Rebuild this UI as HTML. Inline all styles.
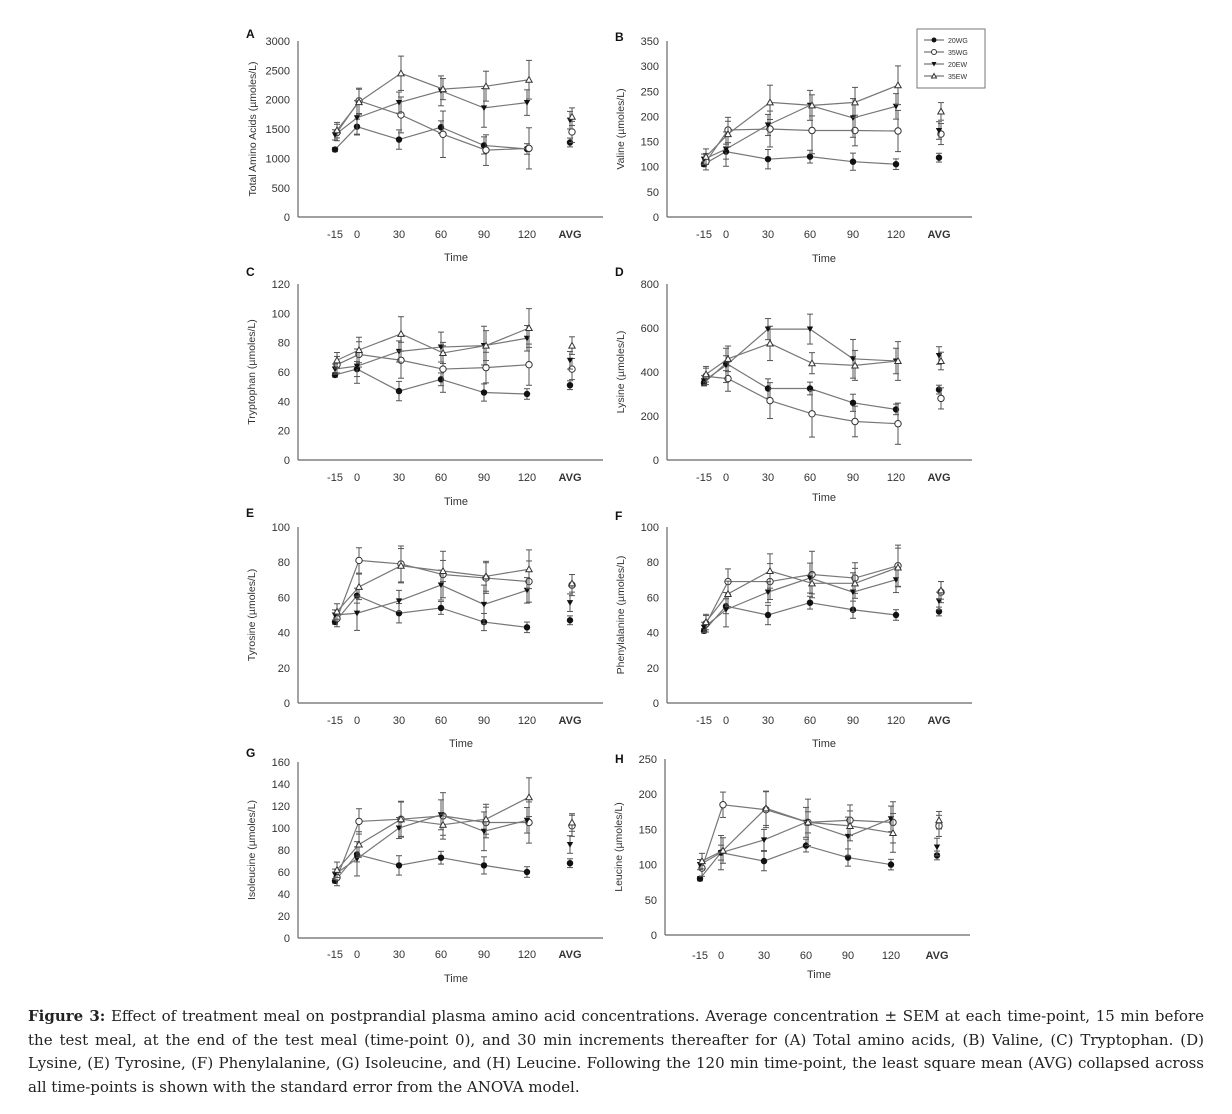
<!DOCTYPE html>
<html><head><meta charset="utf-8"><style>
body{margin:0;background:#fff;width:1232px;height:1114px;overflow:hidden;position:relative}
svg{position:absolute;left:0;top:0}
.t{font-family:"Liberation Sans",sans-serif;font-size:11px;fill:#333}
.yl{font-family:"Liberation Sans",sans-serif;font-size:10.5px;fill:#333}
.pl{font-family:"Liberation Sans",sans-serif;font-size:12px;font-weight:bold;fill:#111}
.cap{position:absolute;left:28px;top:1005px;width:1176px;font-family:"DejaVu Serif",serif;font-size:15px;line-height:23.5px;color:#222;text-align:justify;text-align-last:left}
</style></head><body>
<svg id="s" width="1232" height="1114" xmlns="http://www.w3.org/2000/svg">
<g id="texts">
<g transform="translate(298,217)">
<text class="pl" x="-52" y="-179">A</text>
<g text-anchor="end" class="t"><text x="-8" y="4">0</text><text x="-8" y="-25">500</text><text x="-8" y="-54.7">1000</text><text x="-8" y="-84">1500</text><text x="-8" y="-113.3">2000</text><text x="-8" y="-142.7">2500</text><text x="-8" y="-172">3000</text></g>
<text class="yl" transform="translate(-42,-88) rotate(-90)" text-anchor="middle">Total Amino Acids (µmoles/L)</text>
</g>
<g transform="translate(667,217)">
<text class="pl" x="-52" y="-176">B</text>
<g text-anchor="end" class="t"><text x="-8" y="4">0</text><text x="-8" y="-21.1">50</text><text x="-8" y="-46.3">100</text><text x="-8" y="-71.4">150</text><text x="-8" y="-96.6">200</text><text x="-8" y="-121.7">250</text><text x="-8" y="-146.9">300</text><text x="-8" y="-172">350</text></g>
<text class="yl" transform="translate(-43,-88) rotate(-90)" text-anchor="middle">Valine (µmoles/L)</text>
</g>
<g transform="translate(298,460)">
<text class="pl" x="-52" y="-184">C</text>
<g text-anchor="end" class="t"><text x="-8" y="4">0</text><text x="-8" y="-25.3">20</text><text x="-8" y="-54.7">40</text><text x="-8" y="-84">60</text><text x="-8" y="-113.3">80</text><text x="-8" y="-142.7">100</text><text x="-8" y="-172">120</text></g>
<text class="yl" transform="translate(-43,-88) rotate(-90)" text-anchor="middle">Tryptophan (µmoles/L)</text>
</g>
<g transform="translate(667,460)">
<text class="pl" x="-52" y="-184">D</text>
<g text-anchor="end" class="t"><text x="-8" y="4">0</text><text x="-8" y="-40">200</text><text x="-8" y="-84">400</text><text x="-8" y="-128">600</text><text x="-8" y="-172">800</text></g>
<text class="yl" transform="translate(-43,-88) rotate(-90)" text-anchor="middle">Lysine (µmoles/L)</text>
</g>
<g transform="translate(298,703)">
<text class="pl" x="-52" y="-186">E</text>
<g text-anchor="end" class="t"><text x="-8" y="4">0</text><text x="-8" y="-31.2">20</text><text x="-8" y="-66.4">40</text><text x="-8" y="-101.6">60</text><text x="-8" y="-136.8">80</text><text x="-8" y="-172">100</text></g>
<text class="yl" transform="translate(-43,-88) rotate(-90)" text-anchor="middle">Tyrosine (µmoles/L)</text>
</g>
<g transform="translate(667,703)">
<text class="pl" x="-52" y="-183">F</text>
<g text-anchor="end" class="t"><text x="-8" y="4">0</text><text x="-8" y="-31.2">20</text><text x="-8" y="-66.4">40</text><text x="-8" y="-101.6">60</text><text x="-8" y="-136.8">80</text><text x="-8" y="-172">100</text></g>
<text class="yl" transform="translate(-43,-88) rotate(-90)" text-anchor="middle">Phenylalanine (µmoles/L)</text>
</g>
<g transform="translate(298,938)">
<text class="pl" x="-52" y="-181">G</text>
<g text-anchor="end" class="t"><text x="-8" y="4">0</text><text x="-8" y="-18">20</text><text x="-8" y="-40">40</text><text x="-8" y="-62">60</text><text x="-8" y="-84">80</text><text x="-8" y="-106">100</text><text x="-8" y="-128">120</text><text x="-8" y="-150">140</text><text x="-8" y="-172">160</text></g>
<text class="yl" transform="translate(-43,-88) rotate(-90)" text-anchor="middle">Isoleucine (µmoles/L)</text>
</g>
<g transform="translate(665,935)">
<text class="pl" x="-50" y="-172">H</text>
<g text-anchor="end" class="t"><text x="-8" y="4">0</text><text x="-8" y="-31.2">50</text><text x="-8" y="-66.4">100</text><text x="-8" y="-101.6">150</text><text x="-8" y="-136.8">200</text><text x="-8" y="-172">250</text></g>
<text class="yl" transform="translate(-43,-88) rotate(-90)" text-anchor="middle">Leucine (µmoles/L)</text>
</g>
<g class="t" text-anchor="middle">
<g transform="translate(298,238)"><text x="37">-15</text><text x="59">0</text><text x="101">30</text><text x="143">60</text><text x="186">90</text><text x="229">120</text><text x="272" font-weight="bold">AVG</text><text x="158" y="23">Time</text></g>
<g transform="translate(667,238)"><text x="37">-15</text><text x="59">0</text><text x="101">30</text><text x="143">60</text><text x="186">90</text><text x="229">120</text><text x="272" font-weight="bold">AVG</text><text x="157" y="24">Time</text></g>
<g transform="translate(298,481)"><text x="37">-15</text><text x="59">0</text><text x="101">30</text><text x="143">60</text><text x="186">90</text><text x="229">120</text><text x="272" font-weight="bold">AVG</text><text x="158" y="24">Time</text></g>
<g transform="translate(667,481)"><text x="37">-15</text><text x="59">0</text><text x="101">30</text><text x="143">60</text><text x="186">90</text><text x="229">120</text><text x="272" font-weight="bold">AVG</text><text x="157" y="20">Time</text></g>
<g transform="translate(298,724)"><text x="37">-15</text><text x="59">0</text><text x="101">30</text><text x="143">60</text><text x="186">90</text><text x="229">120</text><text x="272" font-weight="bold">AVG</text><text x="163" y="23">Time</text></g>
<g transform="translate(667,724)"><text x="37">-15</text><text x="59">0</text><text x="101">30</text><text x="143">60</text><text x="186">90</text><text x="229">120</text><text x="272" font-weight="bold">AVG</text><text x="157" y="23">Time</text></g>
<g transform="translate(298,958)"><text x="37">-15</text><text x="59">0</text><text x="101">30</text><text x="143">60</text><text x="186">90</text><text x="229">120</text><text x="272" font-weight="bold">AVG</text><text x="158" y="24">Time</text></g>
<g transform="translate(665,959)"><text x="35">-15</text><text x="56">0</text><text x="99">30</text><text x="141">60</text><text x="183">90</text><text x="226">120</text><text x="272" font-weight="bold">AVG</text><text x="154" y="19">Time</text></g>
</g>
<rect x="917" y="29" width="68" height="59" fill="#fff" stroke="#777" stroke-width="1"/>
<g font-family="Liberation Sans,sans-serif" font-size="7px" fill="#333">
<text x="948" y="43">20WG</text><text x="948" y="55">35WG</text><text x="948" y="67">20EW</text><text x="948" y="79">35EW</text></g>
</g>
<g id="data"></g>
</svg>
<div class="cap"><b>Figure 3:</b> Effect of treatment meal on postprandial plasma amino acid concentrations. Average concentration ± SEM at each time-point, 15 min before the test meal, at the end of the test meal (time-point 0), and 30 min increments thereafter for (A) Total amino acids, (B) Valine, (C) Tryptophan. (D) Lysine, (E) Tyrosine, (F) Phenylalanine, (G) Isoleucine, and (H) Leucine. Following the 120 min time-point, the least square mean (AVG) collapsed across all time-points is shown with the standard error from the ANOVA model.</div>
<script>
var NS="http://www.w3.org/2000/svg",G=document.getElementById("data");
function el(n,a){var e=document.createElementNS(NS,n);for(var k in a)e.setAttribute(k,a[k]);G.appendChild(e);return e;}
function mk(t,x,y,r){r=r||3.2;
 if(t==0)el("circle",{cx:x,cy:y,r:r,fill:"#111"});
 else if(t==1)el("circle",{cx:x,cy:y,r:r,fill:"#fff",stroke:"#333","stroke-width":1});
 else if(t==2)el("polygon",{points:(x-r)+","+(y-r*0.8)+" "+(x+r)+","+(y-r*0.8)+" "+x+","+(y+r),fill:"#111"});
 else el("polygon",{points:(x-r)+","+(y+r*0.8)+" "+(x+r)+","+(y+r*0.8)+" "+x+","+(y-r),fill:"#fff",stroke:"#333","stroke-width":1});}
var XS=[37,59,101,143,186,229],XA=272;
var P=[
 [298,217,3000,[[1150,1540,1320,1530,1220,1160,1270],[1440,1980,1740,1410,1140,1170,1450],[1400,1690,1950,2150,1860,1950,1650],[1480,1960,2450,2180,2230,2340,1710]]],
 [667,217,350,[[105,130,115,120,110,105,118],[110,173,175,172,172,171,165],[115,135,183,222,197,220,172],[120,165,228,222,228,262,210]]],
 [298,460,120,[[58,62,47,55,46,45,51],[65,72,68,62,63,65,62],[62,64,74,77,78,83,68],[68,75,86,73,78,90,78]]],
 [667,460,800,[[350,440,325,325,260,230,320],[380,370,270,210,175,165,280],[360,430,595,595,460,450,475],[390,460,530,440,430,450,450]]],
 [298,703,100,[[46,61,51,54,46,43,47],[48,81,79,73,71,69,67],[50,51,58,67,56,64,57],[52,66,78,75,72,76,68]]],
 [667,703,100,[[41,55,50,57,53,50,52],[45,69,69,73,71,78,63],[43,53,63,71,63,70,58],[46,62,75,68,68,77,64]]],
 [298,938,160,[[52,76,66,73,66,60,68],[55,106,108,111,105,105,102],[58,72,100,112,97,107,85],[62,85,108,103,108,128,105]]],
 [665,935,250,[[80,117,105,127,110,100,113],[95,185,178,160,163,160,155],[100,117,135,160,140,165,125],[105,120,180,160,155,145,163]]]
];
var ERR=[0.05,0.12,0.1,0.1];
P.forEach(function(p,pi){var ox=p[0],oy=p[1],mx=p[2];var xs=pi==7?[35,56,99,141,183,226]:XS;
 el("line",{x1:ox,y1:oy-176,x2:ox,y2:oy,stroke:"#666","stroke-width":1.2});
 el("line",{x1:ox,y1:oy,x2:ox+305,y2:oy,stroke:"#666","stroke-width":1.2});
 p[3].forEach(function(s,si){var pts=[];
  for(var i=0;i<6;i++){var x=ox+xs[i]+(si%2?2:0),y=oy-s[i]/mx*176;pts.push(x+","+y);
   var e=(i==0?0.4:1)*ERR[si]*mx*(0.6+0.5*((i*7+si*3)%5)/4)/mx*176;
   el("line",{x1:x,y1:y-e,x2:x,y2:y+e,stroke:"#555","stroke-width":1});
   el("line",{x1:x-3,y1:y-e,x2:x+3,y2:y-e,stroke:"#555","stroke-width":1});
   el("line",{x1:x-3,y1:y+e,x2:x+3,y2:y+e,stroke:"#555","stroke-width":1});}
  el("polyline",{points:pts.join(" "),fill:"none",stroke:"#777","stroke-width":1.2});
  for(var i=0;i<6;i++){var q=pts[i].split(",");mk(si,+q[0],+q[1]);}
  var ax=ox+XA+(si%2?2:0),ay=oy-s[6]/mx*176,ae=ERR[si]*0.5*176;
  el("line",{x1:ax,y1:ay-ae,x2:ax,y2:ay+ae,stroke:"#555","stroke-width":1});
  el("line",{x1:ax-3,y1:ay-ae,x2:ax+3,y2:ay-ae,stroke:"#555"});
  el("line",{x1:ax-3,y1:ay+ae,x2:ax+3,y2:ay+ae,stroke:"#555"});
  mk(si,ax,ay);
 });
});
for(var i=0;i<4;i++){var y=40+i*12;el("line",{x1:924,y1:y,x2:944,y2:y,stroke:"#555"});mk(i,934,y,2.5);}
</script>
</body></html>
